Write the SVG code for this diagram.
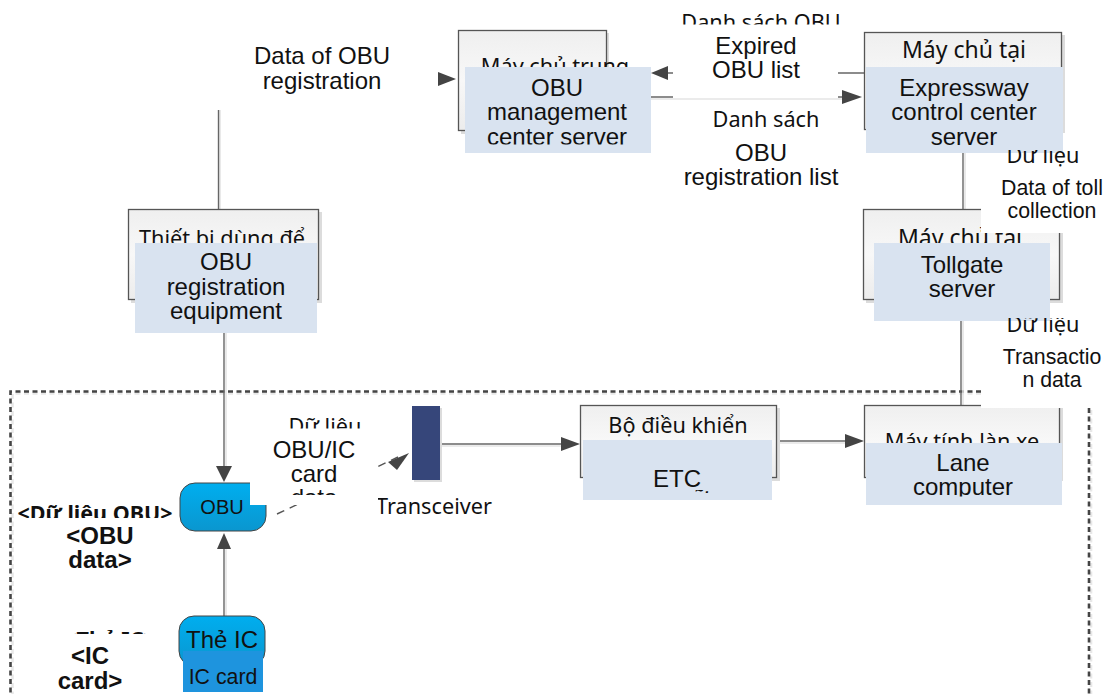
<svg xmlns="http://www.w3.org/2000/svg" width="1105" height="694" viewBox="0 0 1105 694">
<style>
.a{font-family:"Liberation Sans",Arial,sans-serif;font-size:24px;fill:#111;text-anchor:middle}
.s{font-size:21.3px}
.n{font-family:"Noto Sans",sans-serif;font-size:21.7px;fill:#111;text-anchor:middle}
.m{font-size:23px}
.b{font-family:"Liberation Sans",Arial,sans-serif;font-size:24px;font-weight:bold;fill:#111;text-anchor:middle}
.nb{font-family:"Noto Sans",sans-serif;font-size:21.5px;font-weight:bold;fill:#111;text-anchor:middle}
.box{fill:url(#g);stroke:#555;stroke-width:1.3}
.sh{fill:#dcdcdc}
.bl{fill:#d9e3f0}
.w{fill:#fff}
.c{fill:none;stroke:#666;stroke-width:1.4}
.l{fill:none;stroke:#e4e4e4;stroke-width:1.6}
.d{fill:none;stroke:#555;stroke-width:1.4;stroke-dasharray:8 6}
.h{fill:#444}
.f{fill:none;stroke:#444;stroke-width:2.6;stroke-dasharray:5 3.5}
.fs{fill:none;stroke:#e8e8e8;stroke-width:2.6;stroke-dasharray:5 3.5}
</style>
<defs>
<linearGradient id="g" x1="0" y1="0" x2="0" y2="1"><stop offset="0" stop-color="#efefef"/><stop offset="0.5" stop-color="#f8f8f8"/><stop offset="1" stop-color="#ececec"/></linearGradient>
<linearGradient id="o" x1="0" y1="0" x2="0" y2="1"><stop offset="0" stop-color="#00aeef"/><stop offset="1" stop-color="#0a96cf"/></linearGradient>
<clipPath id="c1"><rect x="640" y="0" width="240" height="24.500"/></clipPath>
<clipPath id="c2"><rect x="458" y="30" width="190" height="37"/></clipPath>
<clipPath id="c3"><rect x="465" y="67" width="186" height="77.500"/></clipPath>
<clipPath id="c4"><rect x="866" y="67" width="197" height="78"/></clipPath>
<clipPath id="c5"><rect x="981" y="150" width="124" height="83"/></clipPath>
<clipPath id="c6"><rect x="981" y="318" width="124" height="90"/></clipPath>
<clipPath id="c7"><rect x="864" y="405" width="196" height="38"/></clipPath>
<clipPath id="c8"><rect x="866" y="443" width="196" height="53.500"/></clipPath>
<clipPath id="c9"><rect x="863" y="209" width="197" height="34"/></clipPath>
<clipPath id="c10"><rect x="128" y="209" width="191" height="34"/></clipPath>
<clipPath id="c11"><rect x="260" y="429" width="118" height="66"/></clipPath>
<clipPath id="c16"><rect x="260" y="415" width="118" height="13.500"/></clipPath>
<clipPath id="c12"><rect x="378" y="490" width="130" height="40"/></clipPath>
<clipPath id="c13"><rect x="0" y="495" width="180" height="23"/></clipPath>
<clipPath id="c14"><rect x="40" y="630" width="130" height="4"/></clipPath>
<clipPath id="c15"><rect x="690" y="490" width="20" height="3"/></clipPath>
</defs>

<g id="boundary">
<path class="fs" d="M981 393.500H12.500V694"/>
<path class="fs" d="M1091 410V694"/>
<path class="f" d="M981 391.500H10.500V694"/>
<path class="f" d="M1089 408V694"/>
</g>

<g id="connectors">
<path class="l" d="M220 110V209"/>
<path class="c" d="M218.500 110V209"/>
<path class="l" d="M226 333V468"/>
<path class="c" d="M224 333V468"/><path class="h" d="M224 482l-8-16h16z"/>
<path class="l" d="M226 616V548"/>
<path class="c" d="M224 616V548"/><path class="h" d="M224 533l-7 16h14z"/>
<path class="l" d="M442 446H568"/>
<path class="c" d="M440 444H568"/><path class="h" d="M580 444l-19-7v14z"/>
<path class="l" d="M777 443H848"/>
<path class="c" d="M777 441H848"/><path class="h" d="M864 441l-19-7v14z"/>
<path class="c" d="M666 73H864"/><path class="h" d="M651 73l17-7v14z"/>
<path class="l" d="M606 99H846"/>
<path class="c" d="M606 97H846"/><path class="h" d="M862 97l-20-7v14z"/>
<path class="h" d="M456 79l-18-7v14z"/>
<path class="l" d="M965 153V209"/>
<path class="c" d="M963 153V209"/>
<path class="l" d="M963 321V405"/>
<path class="c" d="M961 321V405"/>
<path class="d" d="M277 514L398 457"/><path class="h" d="M409 453l-21 9 9 8z"/>
</g>

<g id="label-registration">
<text class="a" x="322" y="64">Data of OBU</text>
<text class="a" x="322" y="89">registration</text>
</g>

<g id="label-expired">
<rect class="w" x="673" y="0" width="165" height="98"/>
<text class="n" x="761" y="30" clip-path="url(#c1)">Danh sách OBU</text>
<text class="a" x="756" y="54">Expired</text>
<text class="a" x="756" y="78">OBU list</text>
</g>

<g id="label-list">
<rect class="w" x="673" y="101" width="165" height="90"/>
<text class="n" x="766" y="127">Danh sách</text>
<text class="a" x="761" y="161">OBU</text>
<text class="a" x="761" y="185">registration list</text>
</g>

<g id="node-obu-server">
<rect class="sh" x="461" y="33" width="148" height="101"/>
<rect class="box" x="458.500" y="30.500" width="148" height="100"/>
<text class="n" x="555" y="74" clip-path="url(#c2)">Máy chủ trung</text>
<rect class="bl" x="465" y="67" width="186" height="86"/>
<g clip-path="url(#c3)">
<text class="a" x="557" y="96">OBU</text>
<text class="a" x="557" y="120">management</text>
<text class="a" x="557" y="145">center server</text>
</g>
</g>

<g id="node-expressway">
<rect class="sh" x="867" y="35" width="198" height="98"/>
<rect class="box" x="864.500" y="32.500" width="197" height="97"/>
<text class="n m" x="964" y="58">Máy chủ tại</text>
<rect class="bl" x="866" y="67" width="197" height="86"/>
<g clip-path="url(#c4)">
<text class="a" x="964" y="96">Expressway</text>
<text class="a" x="964" y="120">control center</text>
<text class="a" x="964" y="145">server</text>
</g>
</g>

<g id="node-tollgate">
<rect class="sh" x="866" y="212" width="197" height="91"/>
<rect class="box" x="863.500" y="209.500" width="196" height="90"/>
<text class="n m" x="960" y="246" clip-path="url(#c9)">Máy chủ tại</text>
<rect class="bl" x="874" y="243" width="176" height="78"/>
<text class="a" x="962" y="273">Tollgate</text>
<text class="a" x="962" y="297">server</text>
</g>

<g id="label-toll">
<rect class="w" x="981" y="153" width="124" height="80"/>
<text class="n" x="1043" y="163" clip-path="url(#c5)">Dữ liệu</text>
<text class="a s" x="1052" y="195">Data of toll</text>
<text class="a s" x="1052" y="218">collection</text>
</g>

<g id="node-registration">
<rect class="sh" x="131" y="212" width="191" height="91"/>
<rect class="box" x="128.500" y="209.500" width="190" height="90"/>
<text class="n" x="222" y="246" clip-path="url(#c10)">Thiết bị dùng để</text>
<rect class="bl" x="135" y="243" width="182" height="90"/>
<text class="a" x="226" y="270">OBU</text>
<text class="a" x="226" y="295">registration</text>
<text class="a" x="226" y="319">equipment</text>
</g>

<g id="node-etc">
<rect class="sh" x="583" y="408" width="197" height="73"/>
<rect class="box" x="580.500" y="405.500" width="196" height="72"/>
<text class="n" x="678" y="433">Bộ điều khiển</text>
<rect class="bl" x="583" y="440" width="189" height="60"/>
<text class="a" x="677" y="487">ETC</text>
<text class="n" x="700" y="505" clip-path="url(#c15)">ữ</text>
</g>

<g id="node-lane">
<rect class="sh" x="867" y="408" width="196" height="73"/>
<rect class="box" x="864.500" y="405.500" width="195" height="72"/>
<text class="n" x="962" y="449" clip-path="url(#c7)">Máy tính làn xe</text>
<rect class="bl" x="866" y="443" width="196" height="62"/>
<g clip-path="url(#c8)">
<text class="a" x="963" y="471">Lane</text>
<text class="a" x="963" y="495">computer</text>
</g>
</g>

<g id="label-transaction">
<rect class="w" x="981" y="321" width="124" height="87"/>
<text class="n" x="1043" y="332" clip-path="url(#c6)">Dữ liệu</text>
<text class="a s" x="1052" y="364">Transactio</text>
<text class="a s" x="1052" y="387">n data</text>
</g>

<g id="label-obu-ic">
<rect class="w" x="268" y="410" width="110" height="95"/>
<text class="n" x="325" y="434" clip-path="url(#c16)">Dữ liệu</text>
<g clip-path="url(#c11)">
<text class="a" x="314" y="458">OBU/IC</text>
<text class="a" x="314" y="482">card</text>
<text class="a" x="314" y="506">data</text>
</g>
</g>

<g id="node-transceiver">
<rect class="sh" x="414" y="408" width="28" height="74"/>
<rect x="412" y="406" width="28" height="74" fill="#36467a"/>
<text class="n" x="434" y="514" clip-path="url(#c12)">Transceiver</text>
</g>

<g id="node-obu">
<rect x="180" y="483" width="86" height="48" rx="15" fill="url(#o)" stroke="#444"/>
<rect class="w" x="250" y="482" width="20" height="23"/>
<text class="a" style="font-size:20px" x="222" y="514">OBU</text>
<text class="nb" x="95" y="521" clip-path="url(#c13)">&lt;Dữ liệu OBU&gt;</text>
<text class="b" x="100" y="544">&lt;OBU</text>
<text class="b" x="100" y="568">data&gt;</text>
</g>

<g id="node-ic">
<rect x="179" y="616" width="86" height="50" rx="15" fill="url(#o)" stroke="#444"/>
<text class="a" x="222" y="648">Thẻ IC</text>
<rect x="183" y="651" width="80" height="41" fill="#1e94de"/>
<text class="a s" x="223" y="684">IC card</text>
<text class="nb" x="110" y="647" clip-path="url(#c14)">&lt;Thẻ IC&gt;</text>
<text class="b" x="90" y="664">&lt;IC</text>
<text class="b" x="90" y="689">card&gt;</text>
</g>
</svg>
